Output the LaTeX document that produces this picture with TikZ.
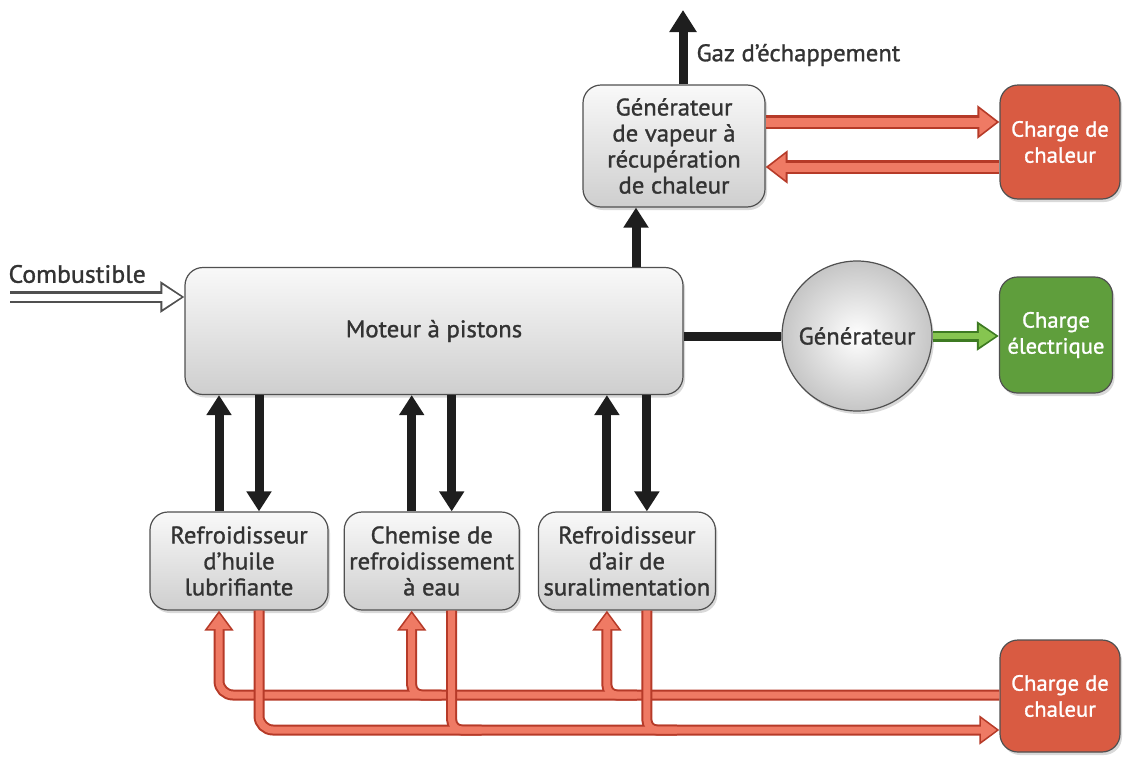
\documentclass[tikz,border=0pt]{standalone}
\usepackage{fontspec}
\setmainfont{PT Sans}[FakeStretch=1.03, FakeBold=1.2]
\usetikzlibrary{arrows.meta, positioning, shadows}

\definecolor{ink}{HTML}{1E1E1E}
\definecolor{txt}{HTML}{333333}
\definecolor{boxedge}{HTML}{505050}
\definecolor{hotedge}{HTML}{B63A28}
\definecolor{hotfill}{HTML}{EF7A64}
\definecolor{heatbox}{HTML}{D95B42}
\definecolor{elecbox}{HTML}{5F9E3C}
\definecolor{greenedge}{HTML}{3D7A22}
\definecolor{greenfill}{HTML}{86C550}

\begin{document}
\begin{tikzpicture}[
    x=1pt, y=-1pt,
    font=\fontsize{24}{26}\selectfont,
    box/.style={rectangle, draw=boxedge, line width=1.2pt, rounded corners=18pt,
                align=center, inner sep=0pt, text=txt,
                top color=gray!5, bottom color=gray!38,
                drop shadow={opacity=0.3, shadow xshift=2pt, shadow yshift=-3pt}},
    load/.style={rectangle, draw=boxedge, line width=1.2pt, rounded corners=18pt,
                 align=center, inner sep=0pt, text=white,
                 font=\fontsize{22}{26}\selectfont,
                 minimum width=120pt, minimum height=114pt,
                 drop shadow={opacity=0.3, shadow xshift=2pt, shadow yshift=-3pt}},
    blk/.style={draw=ink, line width=9pt, -{Triangle[length=20pt,width=24pt]}},
    hotout/.style={draw=hotedge, line width=11pt},
    hotin/.style={draw=hotfill, line width=7pt},
    tipout/.style={-{Triangle[length=20pt,width=28pt]}},
    tipin/.style={shorten >=2.8pt, -{Triangle[length=15.6pt,width=21.8pt]}},
    wideout/.style={draw=hotedge, line width=14pt, -{Triangle[length=22pt,width=32pt]}},
    widein/.style={draw=hotfill, line width=9pt, shorten >=3pt, -{Triangle[length=17pt,width=25pt]}},
    fuelout/.style={draw=boxedge, line width=12pt, -{Triangle[length=24pt,width=30pt]}},
    fuelin/.style={draw=white, line width=7pt, shorten >=3pt, -{Triangle[length=19pt,width=23pt]}},
    elecout/.style={draw=greenedge, line width=11pt, -{Triangle[length=22pt,width=28pt]}},
    elecin/.style={draw=greenfill, line width=6pt, shorten >=3pt, -{Triangle[length=17pt,width=21pt]}}
]
\useasboundingbox (0,0) rectangle (1128,763);

% nodes
\node[box, minimum width=498pt, minimum height=127pt] (moteur) at (434,331) {Moteur à pistons};
\node[box, minimum width=182pt, minimum height=122pt] (gv) at (674,146)
    {Générateur\\de vapeur à\\récupération\\de chaleur};
\node[load, fill=heatbox] (chalTop) at (1060,142) {Charge de\\chaleur};
\node[circle, draw=boxedge, line width=1.2pt, minimum size=150pt, inner sep=0pt,
      text=txt, inner color=white, outer color=gray!45,
      drop shadow={opacity=0.3, shadow xshift=2pt, shadow yshift=-3pt}] (gen) at (857,336) {Générateur};
\node[load, fill=elecbox, minimum width=113pt, minimum height=116pt] (elec) at (1056,335) {Charge\\électrique};
\node[box, minimum width=178pt, minimum height=98pt] (b1) at (239,561) {Refroidisseur\\d’huile\\lubrifiante};
\node[box, minimum width=175pt, minimum height=98pt, right=15pt of b1] (b2) {Chemise de\\refroidissement\\à eau};
\node[box, minimum width=177pt, minimum height=98pt, right=18pt of b2] (b3) {Refroidisseur\\d’air de\\suralimentation};
\node[load, fill=heatbox, minimum height=112pt] (chalBot) at (1060,696) {Charge de\\chaleur};

\node[text=txt, anchor=west] (gaz) at (693,55) {Gaz d’échappement};
\node[text=txt, anchor=west, font=\fontsize{25}{28}\selectfont] (fuellbl) at (5,274) {Combustible};

\coordinate (exhaust) at (683,10);
\coordinate (fuel) at (10,297);
\coordinate (supply) at (0,695);
\coordinate (return) at (0,730);

% engine links
\draw[blk, -{Triangle[length=22pt,width=26pt]}] ([xshift=9pt]gv.north) -- (exhaust);
\draw[blk] (moteur.north -| 636,0) -- (gv.south -| 636,0);
\draw[draw=ink, line width=9pt] (moteur.east |- gen.west) -- (gen.west);
\foreach \b in {b1,b2,b3} {
  \draw[blk] ([xshift=-20pt]\b.north) -- ([xshift=-20pt]\b.north |- moteur.south);
  \draw[blk] ([xshift=20pt]\b.north |- moteur.south) -- ([xshift=20pt]\b.north);
}

% fuel and electricity
\foreach \s in {fuelout,fuelin}
  \draw[\s] (fuel) -- (fuel -| moteur.west);
\foreach \s in {elecout,elecin}
  \draw[\s] (gen.east) -- (gen.east -| elec.west);

% heat recovery, top
\foreach \s in {wideout,widein} {
  \draw[\s] ([yshift=24pt]gv.east) -- ([yshift=24pt]gv.east -| chalTop.west);
  \draw[\s] ([yshift=-21pt]gv.east -| chalTop.west) -- ([yshift=-21pt]gv.east);
}

% heat recovery, bottom
\foreach \s/\t in {hotout/tipout, hotin/tipin} {
  \draw[\s, \t, rounded corners=14pt] (chalBot.west |- supply) -| ([xshift=-20pt]b1.south);
  \draw[\s, \t, rounded corners=10pt] ([xshift=10pt]b2.south |- supply) -| ([xshift=-20pt]b2.south);
  \draw[\s, \t, rounded corners=10pt] ([xshift=10pt]b3.south |- supply) -| ([xshift=-20pt]b3.south);
}
\foreach \s/\t in {hotout/tipout, hotin/tipin} {
  \draw[\s, \t, rounded corners=14pt] ([xshift=20pt]b1.south) |- (chalBot.west |- return);
  \draw[\s, rounded corners=10pt] ([xshift=20pt]b2.south) |- ([xshift=50pt]b2.south |- return);
  \draw[\s, rounded corners=10pt] ([xshift=20pt]b3.south) |- ([xshift=50pt]b3.south |- return);
}

\end{tikzpicture}
\end{document}
